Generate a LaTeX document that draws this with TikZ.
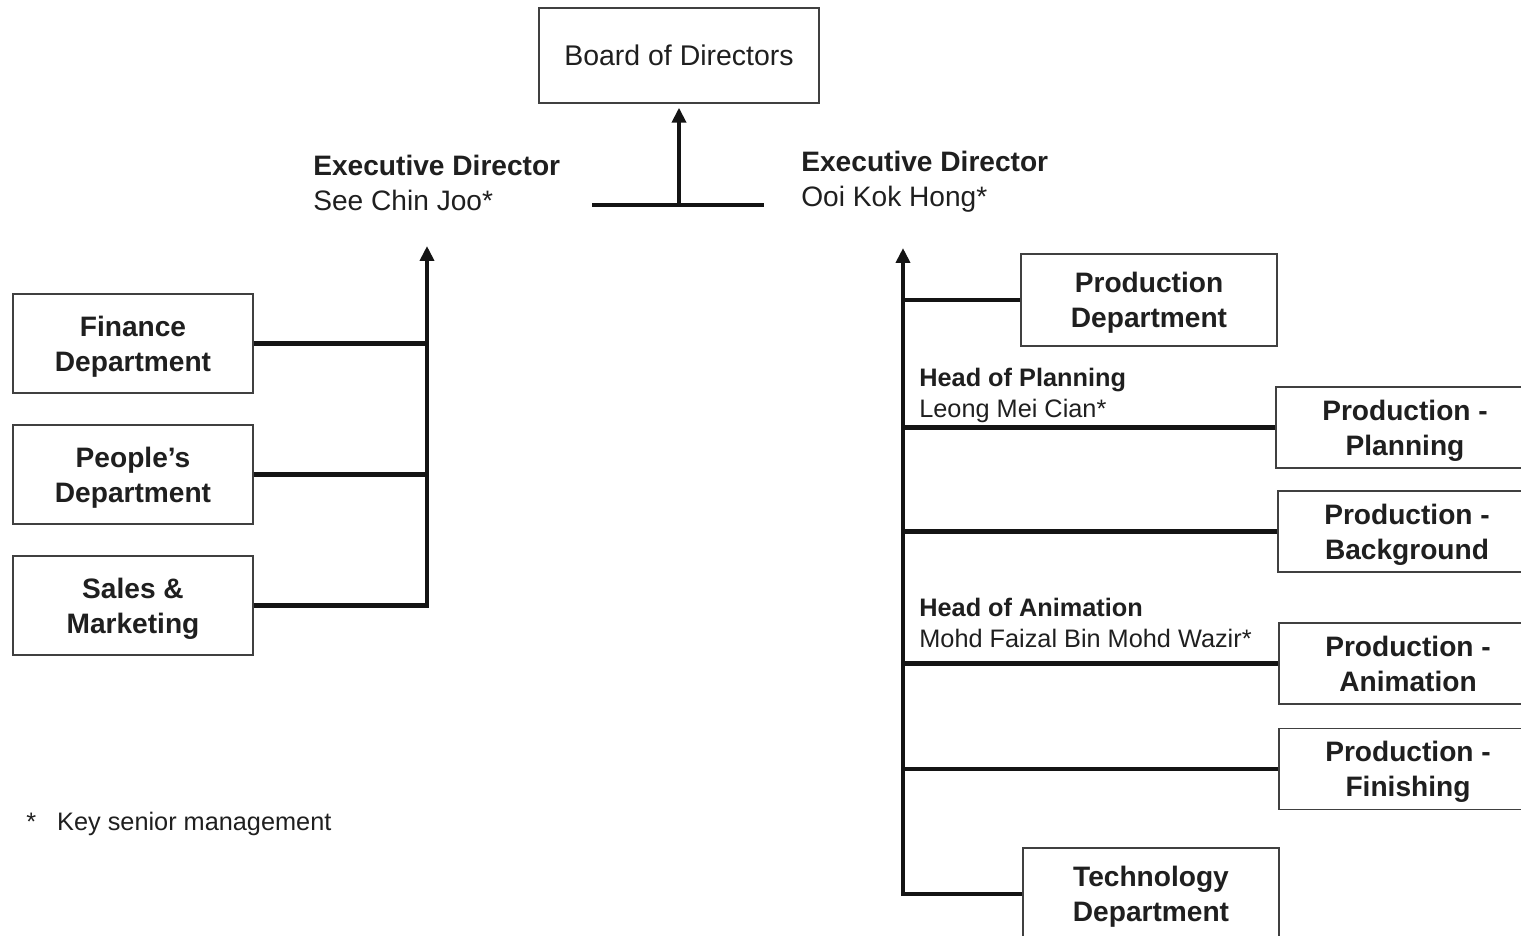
\documentclass[tikz,border=0pt]{standalone}
\usepackage{fontspec}
\setmainfont{Liberation Sans}
\usetikzlibrary{arrows.meta}

\begin{document}
\begin{tikzpicture}
	[x=0.02cm,y=-0.02cm,
	 dept/.style={draw=black!75,line width=0.8pt,fill=white,align=center,inner sep=0pt,
	   text=black!88,font=\bfseries\fontsize{16}{19.8}\selectfont,text depth=0pt},
	 leftdept/.style={dept,minimum width=4.8cm,minimum height=1.98cm},
	 proddept/.style={dept,minimum width=5.16cm,minimum height=1.62cm},
	 who/.style={anchor=west,align=left,inner sep=0pt,text=black!88,
	   font=\fontsize{16}{19.8}\selectfont},
	 head/.style={who,font=\fontsize{14.4}{17.6}\selectfont},
	 link/.style={line width=2.3pt,black!92},
	 uplink/.style={link,-{Triangle[length=0.3cm,width=0.28cm]}}]
\useasboundingbox (0,0) rectangle (1521,936);
\clip (0,0) rectangle (1521,936);
% top
\node[dept,font=\fontsize{16.2}{19}\selectfont,minimum width=5.6cm,minimum height=1.9cm]
  (brd) at (679,55.5) {Board of Directors};
\node[who] (sjc) at (313,183) {\textbf{Executive Director}\\See Chin Joo*};
\node[who] (okh) at (801,182) {\textbf{Executive Director}\\Ooi Kok Hong*};
\coordinate (bl) at (592,205);
\coordinate (br) at (764,205);
% left branch
\node[leftdept] (fin) at (133,343.5) {Finance\\Department};
\node[leftdept] (ppl) at (133,474.5) {People's\\Department};
\node[leftdept] (sal) at (133,605.5) {Sales \&\\Marketing};
\coordinate (ltop) at (427,246);
% right branch
\node[dept,minimum width=5.12cm,minimum height=1.84cm] (prod) at (1149,300) {Production\\Department};
\node[proddept] (plan) at (1405,427.5) {Production -\\Planning};
\node[proddept] (bg) at (1407,531.5) {Production -\\Background};
\node[proddept] (anim) at (1408,663.5) {Production -\\Animation};
\node[proddept] (fini) at (1408,769) {Production -\\Finishing};
\node[dept,minimum width=5.12cm,minimum height=1.84cm] (tech) at (1151,894) {Technology\\Department};
\node[head] (hop) at (919,395) {\textbf{Head of Planning}\\Leong Mei Cian*};
\node[head] (hoa) at (919,623) {\textbf{Head of Animation}\\Mohd Faizal Bin Mohd Wazir*};
\coordinate (rtop) at (903,248);
% footnote
\node[head] (key) at (26,824) {*\hspace{0.42cm}Key senior management};

\draw[link] (bl) -- (br);
\draw[uplink,shorten >=0.08cm] (bl -| brd.south) -- (brd.south);
\draw[uplink] (sal.east) -| (ltop);
\foreach \d in {fin,ppl}
\draw[link] (\d.east) -- (\d.east -| ltop);
\draw[uplink] (tech.west) -| (rtop);
\foreach \d in {prod,plan,bg,anim,fini}
\draw[link] (\d.west) -- (\d.west -| rtop);
\end{tikzpicture}
\end{document}
